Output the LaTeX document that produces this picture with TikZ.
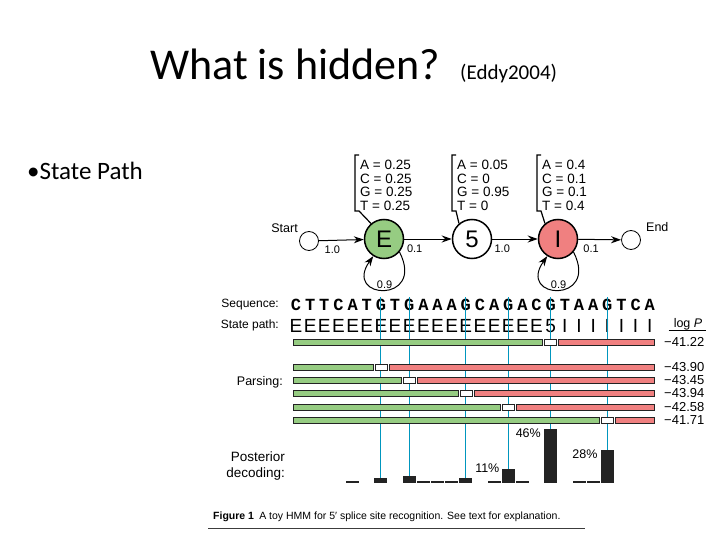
\documentclass[tikz,border=0pt]{standalone}
\usepackage{fontspec}
\setmainfont{Liberation Sans}
\newfontfamily\titlefont{Carlito}
\newfontfamily\seqfont{Liberation Mono}
\usetikzlibrary{arrows.meta,positioning,calc}
\definecolor{exon}{RGB}{150,204,130}
\definecolor{intron}{RGB}{240,128,128}
\definecolor{guide}{RGB}{0,150,190}
\definecolor{bardark}{RGB}{35,35,35}
\definecolor{rulegray}{RGB}{60,60,60}

\begin{document}
\begin{tikzpicture}[x=1pt, y=-1pt,
      st/.style={circle, draw, line width=1.5pt, minimum size=39pt, inner sep=0pt,
        font=\fontsize{24}{24}\selectfont},
      term/.style={circle, draw, line width=0.8pt, minimum size=19pt, inner sep=0pt},
      tr/.style={-{Stealth[length=10pt,width=7pt]}, line width=1pt},
      prob/.style={font=\fontsize{11}{11}\selectfont, inner sep=1pt},
      emit/.style={align=left, anchor=north west, inner sep=0pt,
        font=\fontsize{13.5}{13.5}\selectfont},
      bracket/.style={line width=1.2pt},
      lbl/.style={anchor=east, inner sep=0pt, align=right, font=\fontsize{12.5}{16.5}\selectfont},
      seqletter/.style={inner sep=0pt, font=\seqfont\bfseries\fontsize{17}{17}\selectfont},
      pathletter/.style={inner sep=0pt, font=\fontsize{19}{19}\selectfont},
      gline/.style={guide, line width=1.1pt},
      parse/.style={draw=bardark, line width=0.6pt},
      logp/.style={anchor=west, inner sep=0pt, font=\fontsize{13}{13}\selectfont},
      pbar/.style={fill=bardark, inner sep=0pt, minimum width=13pt, anchor=south},
      pct/.style={inner sep=0pt, font=\fontsize{12.5}{12.5}\selectfont}
    ]
      \useasboundingbox (0,0) rectangle (720,540);

      % slide title
      \node[anchor=base west, inner sep=0pt, font=\titlefont\fontsize{44}{44}\selectfont]
        (title) at (150,80) {What is hidden?};
      \node[anchor=base west, inner sep=0pt, font=\titlefont\fontsize{21}{21}\selectfont]
        (cite) at (460,80) {(Eddy2004)};
      \node[anchor=base west, inner sep=0pt, font=\titlefont\fontsize{25}{25}\selectfont]
        (bullet) at (27,180) {\textbullet State Path};

      % HMM states
      \node[term] (start) at (309,241) {};
      \node[st, fill=exon] (E) at (384,239) {E};
      \node[st] (five) at (472,239) {5};
      \node[st, fill=intron] (I) at (558,239) {I};
      \node[term] (end) at (631,240) {};
      \node[prob, font=\fontsize{12.5}{12.5}\selectfont, anchor=base east] (startlbl) at (299,233) {Start};
      \node[prob, font=\fontsize{12.5}{12.5}\selectfont, anchor=base west] (endlbl) at (645,232) {End};

      % transitions
      \draw[tr] (start) -- node[prob, below=4pt, pos=0.3] {1.0} (E);
      \draw[tr] (E) -- node[prob, below=4pt, pos=0.22] {0.1} (five);
      \draw[tr] (five) -- node[prob, below=4pt, pos=0.22] {1.0} (I);
      \draw[tr] (I) -- node[prob, below=4pt, pos=0.3] {0.1} (end);
      \draw[tr] (E.-40) .. controls (426,304) and (342,300) .. node[prob, above=0pt] {0.9} (E.-122);
      \draw[tr] (I.-40) .. controls (600,304) and (516,300) .. node[prob, above=0pt] {0.9} (I.-122);

      % emission tables
      \draw[bracket] (E.130) -- (359,211) -- (355,211) -- (355,155) -- (359,155);
      \draw[bracket] (five.130) -- (456,211) -- (452,211) -- (452,155) -- (456,155);
      \draw[bracket] (I.130) -- (541,211) -- (537,211) -- (537,155) -- (541,155);
      \node[emit] (emE) at (360,160) {A = 0.25\\C = 0.25\\G = 0.25\\T = 0.25};
      \node[emit] (em5) at (457,160) {A = 0.05\\C = 0\\G = 0.95\\T = 0};
      \node[emit] (emI) at (542,160) {A = 0.4\\C = 0.1\\G = 0.1\\T = 0.4};

      % sequence and state path
      \node[lbl, font=\fontsize{12}{12}\selectfont] (seqlbl) at (279,305) {Sequence:};
      \node[lbl, font=\fontsize{12}{12}\selectfont] (pathlbl) at (279,325) {State path:};
      \foreach \c [count=\k] in {C,T,T,C,A,T,G,T,G,A,A,A,G,C,A,G,A,C,G,T,A,A,G,T,C,A}
        \node[seqletter] (s\k) at ({296+(\k-1)*14.15},305) {\c};
      \foreach \c [count=\k] in {E,E,E,E,E,E,E,E,E,E,E,E,E,E,E,E,E,E,5,I,I,I,I,I,I,I}
        \node[pathletter] (p\k) at ({296+(\k-1)*14.15},326) {\c};

      % guide lines through the G positions
      \foreach \k in {7,9,13,16,19,23} {
        \coordinate (b\k) at ({296+(\k-1)*14.15},483);
        \draw[gline] ($(s\k.center)+(0,-8)$) -- (b\k);
      }

      % parses with log P
      \node[inner sep=1pt, font=\fontsize{12.5}{12.5}\selectfont] (logP) at (688,324) {log \textit{P}};
      \draw[line width=0.8pt] ($(logP.south west)+(-4,-1)$) -- ($(logP.south east)+(3,-1)$);
      \foreach \k/\y/\lp in {19/342/41.22, 7/367/43.90, 9/380/43.45, 13/393/43.94, 16/407/42.58, 23/420/41.71} {
        \pgfmathsetmacro\cx{296+(\k-1)*14.15}
        \draw[parse, fill=exon] (293,\y-3.2) rectangle (\cx-8,\y+3.2);
        \draw[parse, fill=white] (\cx-6,\y-3.2) rectangle (\cx+6,\y+3.2);
        \draw[parse, fill=intron] (\cx+8,\y-3.2) rectangle (654,\y+3.2);
        \node[logp] (lp\k) at (664,\y) {−\lp};
      }
      \node[lbl] (parslbl) at (283,382) {Parsing:};

      % posterior decoding
      \node[lbl, font=\fontsize{13.5}{16.5}\selectfont] (postlbl) at (285,466) {Posterior\\decoding:};
      \foreach \k/\h in {5/2,7/5,9/7,10/2,11/2,12/2,13/5,15/2,16/14,17/2,19/54,21/2,22/2,23/33}
        \node[pbar, minimum height=\h pt] (d\k) at ({296+(\k-1)*14.15},483) {};
      \node[pct, left=2pt of d16.north west] (p11) {11\%};
      \node[pct, left=3pt of d19.north west, yshift=-5pt] (p46) {46\%};
      \node[pct, left=3pt of d23.north west, yshift=-5pt] (p28) {28\%};

      % caption
      \node[anchor=base west, inner sep=0pt, font=\fontsize{10.5}{11}\selectfont] (caption) at (213,519)
        {\textbf{Figure 1}\enspace A toy HMM for 5′ splice site recognition. See text for explanation.};
      \draw[rulegray, line width=1pt] (208,528) -- (585,528);
    \end{tikzpicture}
\end{document}
